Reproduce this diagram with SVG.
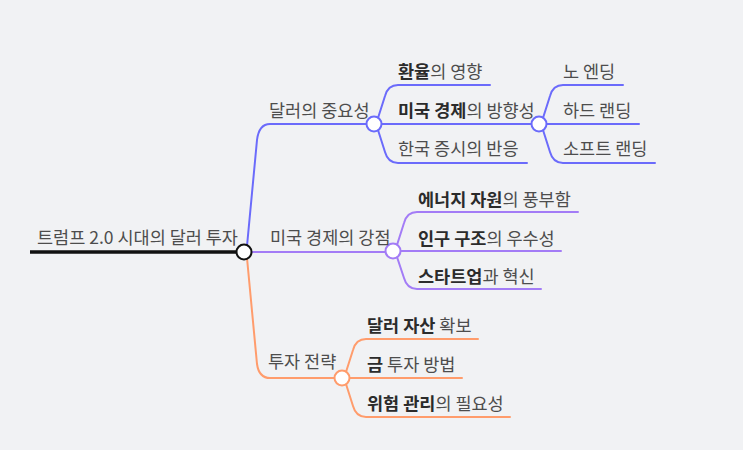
<svg xmlns="http://www.w3.org/2000/svg" width="743" height="450" viewBox="0 0 743 450">
<style>
.t{font-family:"Noto Sans CJK KR","Noto Sans",sans-serif;font-size:17.5px;fill:#4d4d4d}
.b{font-weight:bold;fill:#2b2b2b}
.c{fill:none;stroke-width:2;stroke-linecap:round;stroke-linejoin:round}
.blue{stroke:#6b6bfb}
.pur{stroke:#a37cf6}
.org{stroke:#ff9c6c}
.node{fill:#fff;stroke-width:2}
</style>
<rect width="743" height="450" fill="#f1f2f4"/>
<g id="connectors">
<path d="M30,252 L240,252" fill="none" stroke="#111" stroke-width="3.5"/>
<path class="c blue" d="M247,246 L257,140 Q259,124 270,124 L368,124"/>
<path class="c pur" d="M250,252 L387,252"/>
<path class="c org" d="M247,258 L257,364 Q259,378 270,378 L336,378"/>
<path class="c blue" d="M378,118 L385,96 Q388,85 398,85 L490,85"/>
<path class="c blue" d="M381,124 L533,124"/>
<path class="c blue" d="M378,130 L385,152 Q388,163 398,163 L527,163"/>
<path class="c blue" d="M543,118 L550,96 Q553,85 563,85 L623,85"/>
<path class="c blue" d="M546,124 L639,124"/>
<path class="c blue" d="M543,130 L550,152 Q553,163 563,163 L655,163"/>
<path class="c pur" d="M397,245 L404,223 Q407,212 417,212 L578,212"/>
<path class="c pur" d="M400,251 L561,251"/>
<path class="c pur" d="M397,257 L404,278 Q407,289 417,289 L541,289"/>
<path class="c org" d="M346,372 L353,350 Q356,339 366,339 L478,339"/>
<path class="c org" d="M349,378 L462,378"/>
<path class="c org" d="M346,384 L353,406 Q356,417 366,417 L510,417"/>
</g>
<g id="root"><circle class="node" cx="244" cy="252" r="7.5" stroke="#111"/><text class="t" x="37" y="244">트럼프 2.0 시대의 달러 투자</text></g>
<g id="n-dollar"><circle class="node blue" cx="374" cy="124" r="7.5"/><text class="t" x="269" y="117">달러의 중요성</text></g>
<g id="n-econ"><circle class="node pur" cx="393" cy="251" r="7.5"/><text class="t" x="270" y="244">미국 경제의 강점</text></g>
<g id="n-strat"><circle class="node org" cx="342" cy="378" r="7.5"/><text class="t" x="268" y="368">투자 전략</text></g>
<g id="n-fx"><text class="t" x="398" y="78"><tspan class="b">환율</tspan>의 영향</text></g>
<g id="n-dir"><circle class="node blue" cx="539" cy="124" r="7.5"/><text class="t" x="398" y="117"><tspan class="b">미국 경제</tspan>의 방향성</text></g>
<g id="n-kr"><text class="t" x="398" y="155">한국 증시의 반응</text></g>
<g id="n-no"><text class="t" x="563" y="78">노 엔딩</text></g>
<g id="n-hard"><text class="t" x="563" y="117">하드 랜딩</text></g>
<g id="n-soft"><text class="t" x="563" y="155">소프트 랜딩</text></g>
<g id="n-energy"><text class="t" x="418" y="206"><tspan class="b">에너지 자원</tspan>의 풍부함</text></g>
<g id="n-pop"><text class="t" x="418" y="245"><tspan class="b">인구 구조</tspan>의 우수성</text></g>
<g id="n-start"><text class="t" x="418" y="283"><tspan class="b">스타트업</tspan>과 혁신</text></g>
<g id="n-asset"><text class="t" x="367" y="332"><tspan class="b">달러 자산</tspan> 확보</text></g>
<g id="n-gold"><text class="t" x="367" y="371"><tspan class="b">금</tspan> 투자 방법</text></g>
<g id="n-risk"><text class="t" x="367" y="410"><tspan class="b">위험 관리</tspan>의 필요성</text></g>
</svg>
